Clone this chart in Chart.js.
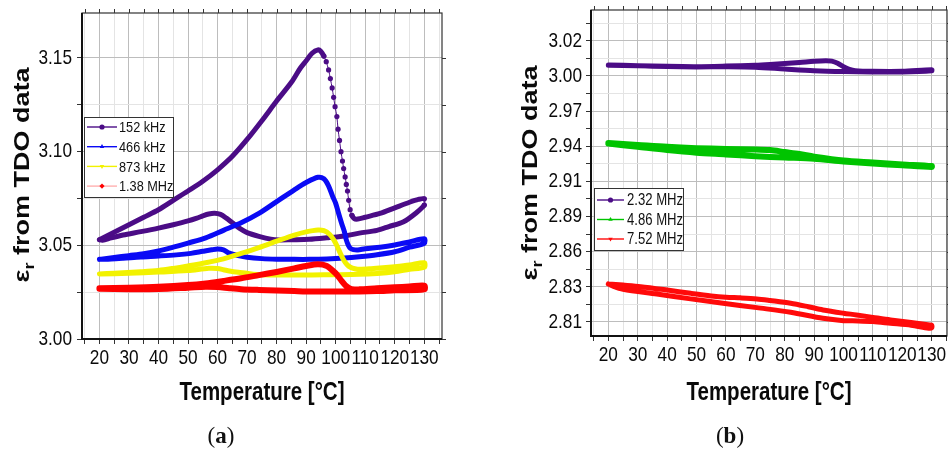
<!DOCTYPE html>
<html>
<head>
<meta charset="utf-8">
<script src="https://cdn.jsdelivr.net/npm/chart.js@4/dist/chart.umd.min.js"></script>
<style>
  html, body { margin: 0; padding: 0; background: #fff; }
  body { width: 948px; height: 450px; position: relative; overflow: hidden; }
  .pane { position: absolute; top: 0; width: 474px; height: 450px; }
  #wrapA { left: 0; }
  #wrapB { left: 474px; }
  .cap { position: absolute; top: 423px; font-family: "Liberation Serif", "DejaVu Serif", serif; font-size: 23px; color: #111; transform: translateX(-50%); }
</style>
</head>
<body>
<div class="pane" id="wrapA"><canvas id="chartA" width="474" height="450"></canvas></div>
<div class="pane" id="wrapB"><canvas id="chartB" width="474" height="450"></canvas></div>
<div class="cap" style="left:221px">(<b>a</b>)</div>
<div class="cap" style="left:730px">(<b>b</b>)</div>
<script>
// ---- shared ticks ----
const xTicks = [15, 20, 25, 30, 35, 40, 45, 50, 55, 60, 65, 70, 75, 80, 85, 90, 95, 100, 105, 110, 115, 120, 125, 130, 135];
const xTickLabels = ['', '20', '', '30', '', '40', '', '50', '', '60', '', '70', '', '80', '', '90', '', '100', '', '110', '', '120', '', '130', ''];
const xTitle = 'Temperature [°C]';

// ---- panel (a) ----
const aYTicks = [3.0, 3.025, 3.05, 3.075, 3.1, 3.125, 3.15];
const aYLabels = ['3.00', '', '3.05', '', '3.10', '', '3.15'];

const f152T = [20, 25, 30, 35, 40, 45, 50, 55, 60, 65, 70, 75, 80, 85, 88, 90, 92, 94, 95, 96, 96.8, 97.6, 98.2, 98.8, 99.3, 99.8, 100.4, 100.8, 101.3, 101.8, 102.3, 102.7, 103.2, 103.6, 104, 104.4, 104.9, 105.5, 106.3, 107.5, 110, 115, 120, 125, 128, 130,
  130, 127, 123, 118, 114, 108, 103, 97, 91, 85, 81, 78, 74, 70, 67.5, 65, 63, 61, 59, 57, 55, 53, 50, 45, 40, 34, 28, 24, 21, 20];
const f152V = [3.053, 3.057, 3.061, 3.065, 3.069, 3.074, 3.079, 3.0842, 3.0903, 3.0975, 3.1065, 3.1165, 3.127, 3.137, 3.1445, 3.1485, 3.1525, 3.1543, 3.1535, 3.151, 3.148, 3.1436, 3.139, 3.134, 3.129, 3.124, 3.1187, 3.112, 3.106, 3.1, 3.095, 3.091, 3.0865, 3.0825, 3.079, 3.074, 3.069, 3.066, 3.0642, 3.064, 3.065, 3.067, 3.07, 3.073, 3.0745, 3.0748,
  3.0715, 3.067, 3.0626, 3.06, 3.058, 3.0565, 3.055, 3.054, 3.0532, 3.053, 3.0529, 3.0533, 3.0548, 3.0568, 3.059, 3.062, 3.0645, 3.0665, 3.0671, 3.0667, 3.0657, 3.0645, 3.063, 3.061, 3.0592, 3.0573, 3.0555, 3.054, 3.0527, 3.053];

const f466T = [20, 25, 30, 35, 40, 45, 50, 56, 62, 68, 74, 80, 86, 90, 94, 96, 97.5, 99, 100, 101, 102, 103, 103.6, 104.3, 105, 106, 107.5, 110, 115, 120, 125, 130,
  130, 125, 120, 114, 108, 103, 97, 91, 86, 80, 75, 70, 67, 64, 62, 60, 58, 55, 51, 46, 40, 34, 28, 24, 20];
const f466V = [3.0425, 3.0435, 3.0445, 3.0455, 3.047, 3.049, 3.0512, 3.054, 3.058, 3.062, 3.067, 3.0733, 3.0796, 3.0835, 3.0863, 3.0855, 3.082, 3.076, 3.0724, 3.067, 3.0618, 3.057, 3.0529, 3.05, 3.0484, 3.0477, 3.0475, 3.0482, 3.049, 3.0502, 3.0518, 3.0535,
  3.0511, 3.049, 3.0466, 3.045, 3.0439, 3.0432, 3.0427, 3.0425, 3.0425, 3.0426, 3.0429, 3.0436, 3.0445, 3.0458, 3.0476, 3.048, 3.0476, 3.0468, 3.0457, 3.0449, 3.0443, 3.0438, 3.0431, 3.0427, 3.0425];

const f873T = [20, 25, 34, 40, 45, 50, 56, 62, 68, 74, 80, 86, 90, 94, 96, 98, 99.5, 100.5, 101.5, 102.7, 103.8, 105, 106.5, 108.3, 112, 116, 120, 125, 130,
  130, 125, 120, 114, 108, 100, 92, 85, 78, 72, 70, 67, 64, 62, 60, 57, 50, 40, 30, 20];
const f873V = [3.0347, 3.0351, 3.0359, 3.0366, 3.0377, 3.039, 3.0407, 3.0428, 3.0457, 3.0488, 3.0522, 3.0555, 3.0572, 3.0582, 3.0578, 3.0558, 3.0525, 3.0495, 3.046, 3.0422, 3.0398, 3.0383, 3.0375, 3.0372, 3.0375, 3.038, 3.0386, 3.0395, 3.0407,
  3.0383, 3.0372, 3.0359, 3.035, 3.0345, 3.0343, 3.0342, 3.0342, 3.0342, 3.0346, 3.0351, 3.0356, 3.0363, 3.037, 3.0376, 3.0377, 3.0365, 3.0357, 3.0351, 3.0347];

const f138T = [20, 30, 40, 50, 56, 62, 68, 74, 80, 86, 90, 94, 97, 99, 100.5, 102, 103.2, 104.5, 105.5, 108, 114, 120, 125, 130,
  130, 120, 114, 108, 100, 97, 90, 86, 80, 74, 68, 64, 60, 56, 50, 40, 30, 20];
const f138V = [3.0271, 3.0274, 3.0279, 3.0288, 3.0297, 3.031, 3.0324, 3.0341, 3.0358, 3.0377, 3.039, 3.0399, 3.039, 3.0365, 3.0342, 3.031, 3.0288, 3.0272, 3.0265, 3.0265, 3.0271, 3.0276, 3.028, 3.0285,
  3.0265, 3.026, 3.0256, 3.0254, 3.0253, 3.0253, 3.0254, 3.0256, 3.0259, 3.0262, 3.0266, 3.0271, 3.0277, 3.0279, 3.0274, 3.0267, 3.0266, 3.0268];

// ---- panel (b) ----
const bYTicks = [2.8065, 2.82, 2.8335, 2.847, 2.8605, 2.874, 2.8875, 2.901, 2.9145, 2.928, 2.9415, 2.955, 2.9685, 2.982, 2.9955, 3.009, 3.0225, 3.036];
const bYLabels = ['2.81', '', '2.83', '', '2.86', '', '2.89', '', '2.91', '', '2.94', '', '2.97', '', '3.00', '', '3.02', ''];

const f232T = [20, 30, 40, 50, 60, 70, 75, 80, 85, 90, 94, 96, 98, 100, 102, 104, 110, 120, 130,
  130, 120, 110, 100, 90, 80, 70, 60, 50, 40, 30, 20];
const f232V = [3.0039, 3.0033, 3.0028, 3.0026, 3.003, 3.0036, 3.0042, 3.005, 3.0058, 3.0068, 3.0072, 3.0068, 3.0052, 3.0025, 3.0005, 2.9995, 2.999, 2.999, 3.0003,
  2.9995, 2.9985, 2.9985, 2.9988, 2.9995, 3.0008, 3.0022, 3.0025, 3.0024, 3.0027, 3.0032, 3.0036];

const f486T = [20, 30, 40, 50, 60, 70, 75, 80, 85, 90, 100, 110, 120, 130,
  130, 120, 110, 100, 90, 80, 70, 60, 50, 40, 30, 20];
const f486V = [2.944, 2.9425, 2.941, 2.94, 2.9394, 2.939, 2.9385, 2.937, 2.9355, 2.9335, 2.9305, 2.929, 2.9275, 2.9262,
  2.9255, 2.9268, 2.9282, 2.9298, 2.9318, 2.9328, 2.9338, 2.9352, 2.9365, 2.9385, 2.941, 2.9435];

const f752T = [20, 25, 31, 40, 48, 55, 60, 65, 70.5, 75, 82, 88, 93, 100, 104.4, 110, 116, 123, 129.3, 130,
  130, 129, 123, 116, 110, 105, 100, 93, 82, 70.5, 59, 48, 36.5, 25, 21, 20];
const f752V = [2.8357, 2.8348, 2.8336, 2.831, 2.8285, 2.8265, 2.8255, 2.825, 2.8242, 2.823, 2.8209, 2.8182, 2.8157, 2.8132, 2.8119, 2.81, 2.808, 2.806, 2.8042, 2.804,
  2.802, 2.8017, 2.804, 2.8055, 2.8068, 2.8073, 2.8075, 2.8093, 2.814, 2.8175, 2.8209, 2.8242, 2.828, 2.8316, 2.8345, 2.8357];

// Arial-like face, squeezed horizontally to look like the narrow face of the figure
const SANS = '"Liberation Sans", Arial, sans-serif';
const SQ = 0.82;

function squeezed(ctx, text, x, y, font, align) {
  ctx.save();
  ctx.font = font;
  ctx.textAlign = align;
  ctx.textBaseline = 'middle';
  ctx.translate(x, y);
  ctx.scale(SQ, 1);
  ctx.fillText(text, 0, 0);
  ctx.restore();
}

function loop(label, T, V, color, width, marker, rot, order) {
  return {
    label,
    data: T.map((t, i) => ({ x: t, y: V[i] })),
    borderColor: color,
    backgroundColor: color,
    borderWidth: width,
    pointRadius: 0,
    pointBorderWidth: 0,
    showLine: true,
    tension: 0.3,
    borderJoinStyle: 'round',
    borderCapStyle: 'round',
    legendMarker: marker,
    legendRot: rot,
    order
  };
}

// steep parts of the 152 kHz curve are drawn as thin line with dots
function isSteep(p0, p1) {
  const dx = Math.abs(p1.x - p0.x);
  return Math.abs(p1.y - p0.y) > 0.0035 * Math.max(dx, 1e-6);
}

const boxLegend = {
  id: 'boxLegend',
  afterDatasetsDraw(chart, args, o) {
    const ctx = chart.ctx, a = chart.chartArea;
    const x0 = Math.round(a.left + o.dx), y0 = Math.round(a.top + o.dy);
    ctx.save();
    ctx.fillStyle = '#fff';
    ctx.fillRect(x0, y0, o.w, o.h);
    ctx.strokeStyle = '#333';
    ctx.lineWidth = 1;
    ctx.strokeRect(x0 + 0.5, y0 + 0.5, o.w, o.h);
    chart.data.datasets.forEach((ds, i) => {
      const y = y0 + o.first + i * o.step;
      ctx.strokeStyle = ds.legendLine || ds.borderColor;
      ctx.lineWidth = 1.4;
      ctx.beginPath();
      ctx.moveTo(x0 + 3, y);
      ctx.lineTo(x0 + 3 + o.line, y);
      ctx.stroke();
      ctx.fillStyle = ds.borderColor;
      Chart.helpers.drawPoint(ctx, { pointStyle: ds.legendMarker, rotation: ds.legendRot, radius: 2.6, borderWidth: 0 }, x0 + 3 + o.line / 2, y);
      ctx.fillStyle = '#111';
      squeezed(ctx, ds.label, x0 + o.textX, y + 1, o.size + 'px ' + SANS, 'left');
    });
    ctx.restore();
  }
};

const frame = {
  id: 'frame',
  afterDraw(chart) {
    const { ctx, chartArea: a, scales } = chart;
    ctx.save();
    ctx.strokeStyle = '#333';
    ctx.lineWidth = 1.2;
    ctx.strokeRect(a.left, a.top, a.right - a.left, a.bottom - a.top);
    ctx.strokeStyle = '#111';
    ctx.lineWidth = 2;
    ctx.beginPath();
    ctx.moveTo(a.left, a.top);
    ctx.lineTo(a.left, a.bottom);
    ctx.lineTo(a.right, a.bottom);
    ctx.stroke();
    ctx.lineWidth = 1;
    ctx.strokeStyle = '#333';
    scales.x.ticks.forEach(t => {
      const px = Math.round(scales.x.getPixelForValue(t.value)) + 0.5;
      ctx.beginPath(); ctx.moveTo(px, a.top); ctx.lineTo(px, a.top - 4); ctx.stroke();
    });
    scales.y.ticks.forEach(t => {
      const py = Math.round(scales.y.getPixelForValue(t.value)) + 0.5;
      ctx.beginPath(); ctx.moveTo(a.right, py); ctx.lineTo(a.right + 4, py); ctx.stroke();
    });
    ctx.restore();
  }
};

// tick labels and axis titles, placed from the chart's own scales
function axisText(yTicks, yLabels) {
  return {
    id: 'axisText',
    afterDraw(chart, args, o) {
      const { ctx, chartArea: a, scales } = chart;
      ctx.save();
      ctx.fillStyle = '#0a0a0a';
      const tickFont = '21px ' + SANS;
      scales.x.ticks.forEach(t => {
        const lab = xTickLabels[xTicks.indexOf(t.value)];
        if (lab) squeezed(ctx, lab, scales.x.getPixelForValue(t.value), a.bottom + 19, tickFont, 'center');
      });
      scales.y.ticks.forEach(t => {
        const lab = yLabels[yTicks.indexOf(t.value)];
        if (lab) squeezed(ctx, lab, a.left - o.gap, scales.y.getPixelForValue(t.value), tickFont, 'right');
      });
      squeezed(ctx, xTitle, (a.left + a.right) / 2, 393, 'bold 25px ' + SANS, 'center');

      // y title, epsilon with subscript r
      const big = 'bold 27px ' + SANS, small = 'bold 18px ' + SANS;
      ctx.translate(o.titleX, o.titleY);
      ctx.scale(SQ, 1);
      ctx.rotate(-Math.PI / 2);
      ctx.textBaseline = 'alphabetic';
      ctx.textAlign = 'left';
      ctx.font = big;
      const w1 = ctx.measureText('\u03b5').width;
      const w3 = ctx.measureText(' from TDO data').width;
      ctx.font = small;
      const w2 = ctx.measureText('r').width;
      let x = -(w1 + w2 + w3) / 2;
      ctx.font = big;
      ctx.fillText('\u03b5', x, 9); x += w1;
      ctx.font = small;
      ctx.fillText('r', x, 15); x += w2;
      ctx.font = big;
      ctx.fillText(' from TDO data', x, 9);
      ctx.restore();
    }
  };
}

function gridColor(isMajor) {
  return ctx => (ctx.tick && isMajor(ctx.tick.value) ? '#bdbdbd' : '#e4e4e4');
}

function xScale(max, bottom) {
  return {
    type: 'linear',
    min: 14.1,
    max,
    afterBuildTicks: s => { s.ticks = xTicks.map(v => ({ value: v })); },
    afterFit: s => { s.height = 450 - bottom; },
    ticks: { display: false },
    grid: { color: gridColor(v => v % 10 === 0), tickColor: '#333', tickLength: 5 },
    border: { display: false }
  };
}

function yScale(min, max, ticks, labels, width) {
  return {
    type: 'linear',
    min,
    max,
    afterBuildTicks: s => { s.ticks = ticks.map(v => ({ value: v })); },
    afterFit: s => { s.width = width; },
    ticks: { display: false },
    grid: { color: gridColor(v => labels[ticks.indexOf(v)] !== ''), tickColor: '#333', tickLength: 5 },
    border: { display: false }
  };
}

const d152 = loop('152 kHz', f152T, f152V, '#4b0c86', 5, 'circle', 0, 4);
d152.segment = { borderWidth: ctx => (isSteep(ctx.p0.parsed, ctx.p1.parsed) ? 1 : 5) };
d152.pointRadius = ctx => {
  const d = ctx.dataset.data, i = ctx.dataIndex;
  const prev = i > 0 && isSteep(d[i - 1], d[i]);
  const next = i < d.length - 1 && isSteep(d[i], d[i + 1]);
  return prev || next ? 2.6 : 0;
};
const d138 = loop('1.38 MHz', f138T, f138V, '#ff0000', 6, 'rectRot', 0, 1);
d138.legendLine = '#ffb0b0';

new Chart(document.getElementById('chartA'), {
  type: 'scatter',
  data: {
    datasets: [
      d152,
      loop('466 kHz', f466T, f466V, '#0a0af5', 5, 'triangle', 0, 3),
      loop('873 kHz', f873T, f873V, '#f2f200', 5, 'triangle', 180, 2),
      d138
    ]
  },
  options: {
    responsive: false,
    animation: false,
    devicePixelRatio: 1,
    events: [],
    layout: { padding: { left: 0, right: 32, top: 13, bottom: 0 } },
    plugins: {
      legend: { display: false },
      tooltip: { enabled: false },
      boxLegend: { dx: 2, dy: 104, w: 89, h: 80, first: 10, step: 19.7, line: 30, textX: 35, size: 15.5 },
      axisText: { gap: 10, titleX: 22, titleY: 175 }
    },
    scales: {
      x: xScale(136, 339),
      y: yScale(3.0, 3.174, aYTicks, aYLabels, 82)
    }
  },
  plugins: [boxLegend, frame, axisText(aYTicks, aYLabels)]
});

new Chart(document.getElementById('chartB'), {
  type: 'scatter',
  data: {
    datasets: [
      loop('2.32 MHz', f232T, f232V, '#4b0c86', 5, 'circle', 0, 3),
      loop('4.86 MHz', f486T, f486V, '#00c400', 6, 'triangle', 0, 2),
      loop('7.52 MHz', f752T, f752V, '#ff0a0a', 5, 'triangle', 180, 1)
    ]
  },
  options: {
    responsive: false,
    animation: false,
    devicePixelRatio: 1,
    events: [],
    layout: { padding: { left: 0, right: 1, top: 10, bottom: 0 } },
    plugins: {
      legend: { display: false },
      tooltip: { enabled: false },
      boxLegend: { dx: 3, dy: 178, w: 89, h: 62, first: 12, step: 19.5, line: 27, textX: 33, size: 16 },
      axisText: { gap: 9, titleX: 56, titleY: 173 }
    },
    scales: {
      x: xScale(135.2, 336),
      y: yScale(2.7957, 3.0461, bYTicks, bYLabels, 117)
    }
  },
  plugins: [boxLegend, frame, axisText(bYTicks, bYLabels)]
});
</script>
</body>
</html>
